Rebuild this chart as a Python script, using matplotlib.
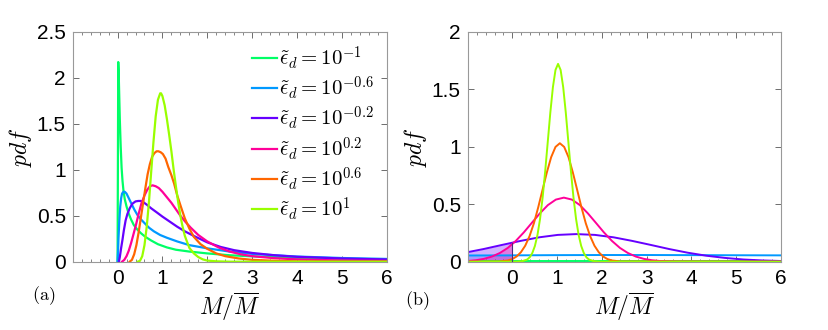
## pdf of M/Mbar for several dissipation values, panels (a) and (b)

import numpy as np
import matplotlib.pyplot as plt
from matplotlib.ticker import MultipleLocator

plt.rcParams['mathtext.fontset'] = 'cm'
plt.rcParams['font.family'] = ['Liberation Sans', 'DejaVu Sans']

## Legend labels and colours

labels = [r'$\tilde{\epsilon}_d = 10^{-1}$', r'$\tilde{\epsilon}_d = 10^{-0.6}$',
          r'$\tilde{\epsilon}_d = 10^{-0.2}$', r'$\tilde{\epsilon}_d = 10^{0.2}$',
          r'$\tilde{\epsilon}_d = 10^{0.6}$', r'$\tilde{\epsilon}_d = 10^{1}$']
colors = ['#00ff66', '#0099ff', '#6600ff', '#ff0099', '#ff6600', '#99ff00']

## Panel (a) curves

xa_1 = [0, 0.008, 0.015, 0.025, 0.035, 0.05, 0.07, 0.09, 0.11, 0.13, 0.16, 0.2, 0.25,
        0.3, 0.36, 0.44, 0.52, 0.62, 0.75, 0.9, 1.1, 1.3, 1.6, 2.0, 2.5, 3, 4, 5, 6]
ya_1 = [0, 1.1, 2.17, 2.05, 1.85, 1.55, 1.25, 1.02, 0.88, 0.78, 0.68, 0.6, 0.52,
        0.46, 0.4, 0.35, 0.31, 0.27, 0.23, 0.19, 0.155, 0.13, 0.11, 0.09, 0.07, 0.058,
        0.04, 0.03, 0.022]

xa_2 = [0, 0.01, 0.02, 0.04, 0.06, 0.08, 0.1, 0.13, 0.16, 0.2, 0.25, 0.3, 0.37, 0.44,
        0.52, 0.6, 0.7, 0.81, 0.95, 1.1, 1.33, 1.6, 2.0, 2.5, 3, 3.5, 4, 5, 6]
ya_2 = [0, 0.1, 0.25, 0.45, 0.6, 0.69, 0.74, 0.76, 0.76, 0.74, 0.69, 0.64, 0.57, 0.51,
        0.46, 0.42, 0.37, 0.33, 0.29, 0.26, 0.22, 0.18, 0.145, 0.11, 0.085, 0.07,
        0.056, 0.04, 0.03]

xa_3 = [0.03, 0.05, 0.08, 0.11, 0.14, 0.18, 0.22, 0.27, 0.33, 0.4, 0.46, 0.52, 0.58,
        0.65, 0.75, 0.89, 1.0, 1.15, 1.33, 1.5, 1.7, 2.0, 2.3, 2.6, 3.0, 3.5, 4, 5, 6]
ya_3 = [0, 0.05, 0.15, 0.24, 0.34, 0.45, 0.52, 0.58, 0.63, 0.655, 0.66, 0.66, 0.645,
        0.62, 0.58, 0.53, 0.49, 0.44, 0.38, 0.33, 0.28, 0.21, 0.16, 0.125, 0.095,
        0.07, 0.053, 0.035, 0.024]

xa_4 = [0.1, 0.15, 0.2, 0.25, 0.3, 0.35, 0.41, 0.47, 0.53, 0.6, 0.66, 0.72, 0.78, 0.85,
        0.92, 1.0, 1.1, 1.2, 1.3, 1.4, 1.5, 1.63, 1.8, 2.0, 2.25, 2.5, 2.75, 3.0, 3.5,
        4, 5, 6]
ya_4 = [0, 0.02, 0.06, 0.12, 0.2, 0.29, 0.4, 0.52, 0.63, 0.72, 0.78, 0.82, 0.83, 0.82,
        0.8, 0.76, 0.7, 0.64, 0.57, 0.5, 0.44, 0.37, 0.29, 0.22, 0.155, 0.11, 0.08,
        0.06, 0.038, 0.025, 0.013, 0.008]

xa_5 = [0.27, 0.32, 0.37, 0.42, 0.47, 0.52, 0.57, 0.62, 0.67, 0.72, 0.77, 0.82, 0.87,
        0.91, 0.96, 1.01, 1.07, 1.13, 1.2, 1.26, 1.33, 1.41, 1.5, 1.6, 1.7, 1.85, 2.0,
        2.2, 2.4, 2.7, 3.0, 3.5, 4.0, 5, 6]
ya_5 = [0, 0.02, 0.08, 0.18, 0.32, 0.48, 0.64, 0.8, 0.95, 1.06, 1.14, 1.18, 1.2,
        1.2, 1.19, 1.17, 1.12, 1.03, 0.94, 0.85, 0.72, 0.6, 0.47, 0.36, 0.27, 0.19,
        0.14, 0.09, 0.06, 0.035, 0.02, 0.01, 0.004, 0.001, 0]

xa_6 = [0.45, 0.5, 0.55, 0.6, 0.65, 0.7, 0.75, 0.8, 0.85, 0.9, 0.95, 0.97, 1.0, 1.05,
        1.1, 1.15, 1.2, 1.25, 1.3, 1.35, 1.4, 1.45, 1.5, 1.6, 1.7, 1.8, 1.9, 2.0, 2.2,
        2.5, 6]
ya_6 = [0, 0.01, 0.06, 0.18, 0.38, 0.65, 0.98, 1.3, 1.58, 1.76, 1.83, 1.83, 1.8, 1.7,
        1.55, 1.38, 1.2, 1.0, 0.82, 0.65, 0.5, 0.38, 0.28, 0.15, 0.09, 0.05, 0.025,
        0.012, 0.004, 0, 0]

## Panel (b) curves

xb_1 = [-1, 6]
yb_1 = [0.004, 0.004]

xb_2 = [-1, 0, 1, 2, 3, 4, 5, 6]
yb_2 = [0.054, 0.055, 0.057, 0.058, 0.058, 0.057, 0.056, 0.055]

xb_3 = [-1.0, -0.645, -0.23, 0.185, 0.6, 1.015, 1.43, 1.845, 2.26, 2.675, 3.09, 3.505,
        3.92, 4.335, 4.75, 5.165, 5.58, 6.0]
yb_3 = [0.083, 0.11, 0.146, 0.181, 0.212, 0.233, 0.24, 0.233, 0.212, 0.181, 0.146,
        0.11, 0.078, 0.052, 0.033, 0.019, 0.011, 0.006]

xb_4 = [-1.0, -0.819, -0.64, -0.461, -0.282, -0.103, 0.076, 0.255, 0.434, 0.613, 0.792,
        0.971, 1.15, 1.329, 1.508, 1.687, 1.866, 2.045, 2.224, 2.403, 2.582, 2.761,
        2.94, 3.119, 3.298, 3.656, 4.2, 6.0]
yb_4 = [0.006, 0.0127, 0.0245, 0.0443, 0.0754, 0.12, 0.181, 0.255, 0.338, 0.42, 0.492,
        0.54, 0.557, 0.54, 0.492, 0.42, 0.338, 0.255, 0.181, 0.12, 0.0754, 0.0443,
        0.0245, 0.0127, 0.006, 0.0012, 0, 0]

xb_5 = [-1.0, -0.295, -0.101, -0.004, 0.092, 0.189, 0.286, 0.383, 0.48, 0.576, 0.673,
        0.77, 0.866, 0.963, 1.06, 1.157, 1.254, 1.35, 1.447, 1.544, 1.64, 1.737, 1.834,
        1.931, 2.028, 2.124, 2.221, 2.415, 6.0]
yb_5 = [0, 0.002, 0.011, 0.023, 0.045, 0.082, 0.139, 0.223, 0.334, 0.472, 0.625,
        0.777, 0.909, 0.998, 1.03, 0.998, 0.909, 0.777, 0.625, 0.472, 0.334, 0.223,
        0.139, 0.082, 0.045, 0.023, 0.011, 0.002, 0]

xb_6 = [-1, 0.1, 0.215, 0.33, 0.3875, 0.445, 0.5025, 0.56, 0.6175, 0.675, 0.7325, 0.79,
        0.8475, 0.905, 0.9625, 1.02, 1.0775, 1.135, 1.1925, 1.25, 1.3075, 1.365,
        1.4225, 1.48, 1.5375, 1.595, 1.6525, 1.71, 1.825, 1.95, 6]
yb_6 = [0, 0, 0.004, 0.019, 0.039, 0.076, 0.137, 0.233, 0.372, 0.558, 0.787, 1.043,
        1.298, 1.518, 1.667, 1.72, 1.667, 1.518, 1.298, 1.043, 0.787, 0.558, 0.372,
        0.233, 0.137, 0.076, 0.039, 0.019, 0.004, 0, 0]

xa = [xa_1, xa_2, xa_3, xa_4, xa_5, xa_6]
ya = [ya_1, ya_2, ya_3, ya_4, ya_5, ya_6]
xb = [xb_1, xb_2, xb_3, xb_4, xb_5, xb_6]
yb = [yb_1, yb_2, yb_3, yb_4, yb_5, yb_6]

## Figure

fig = plt.figure(figsize=(8.29, 3.3), dpi=100)
ax1 = fig.add_axes([0.0877, 0.207, 0.3788, 0.697])
ax2 = fig.add_axes([0.5642, 0.207, 0.3776, 0.697])

for i in range(6):
    ax1.plot(xa[i], ya[i], color=colors[i], lw=1.6, label=labels[i])

for i in range(6):
    ax2.plot(xb[i], yb[i], color=colors[i], lw=1.4)

## shaded negative-mass part of panel (b)
for i, a in [(1, 0.25), (2, 0.3), (3, 0.3)]:
    x = np.array(xb[i], dtype=float)
    y = np.array(yb[i], dtype=float)
    y0 = np.interp(0, x, y)
    m = x < 0
    xs = np.append(x[m], 0)
    ys = np.append(y[m], y0)
    ax2.fill_between(xs, 0, ys, color=colors[i], alpha=a, lw=0)
    if i == 2:
        ax2.plot([0, 0], [0, y0], color='#4b2a80', lw=0.8)

ax1.set_ylim(0, 2.5)
ax1.set_yticks([0, 0.5, 1, 1.5, 2, 2.5])
ax1.set_yticklabels(['0', '0.5', '1', '1.5', '2', '2.5'])
ax2.set_ylim(0, 2)
ax2.set_yticks([0, 0.5, 1, 1.5, 2])
ax2.set_yticklabels(['0', '0.5', '1', '1.5', '2'])

for ax in [ax1, ax2]:
    ax.set_xlim(-1, 6)
    ax.set_xticks([0, 1, 2, 3, 4, 5, 6])
    ax.set_xticklabels(['0', '1', '2', '3', '4', '5', '6'])
    ax.xaxis.set_minor_locator(MultipleLocator(0.2))
    ax.tick_params(which='both', direction='in', top=True, right=True,
                   color='#555555', labelsize=15, pad=5)
    ax.tick_params(which='major', length=4, width=0.6)
    ax.tick_params(which='minor', length=2, width=0.5)
    for s in ax.spines.values():
        s.set_color('#999999')
        s.set_linewidth(0.8)
    ax.set_xlabel(r'$M/\overline{M}$', fontsize=17, labelpad=2)
    ax.set_ylabel(r'$pdf$', fontsize=17, labelpad=2)

ax1.legend(loc='upper right', frameon=False, fontsize=15, handlelength=1.2,
           handletextpad=0.1, labelspacing=0.12, borderaxespad=0.2,
           bbox_to_anchor=(1.0, 1.0))

fig.text(0.038, 0.09, r'$\mathrm{(a)}$', fontsize=13)
fig.text(0.4885, 0.076, r'$\mathrm{(b)}$', fontsize=13)

plt.savefig('out.png', dpi=100)
